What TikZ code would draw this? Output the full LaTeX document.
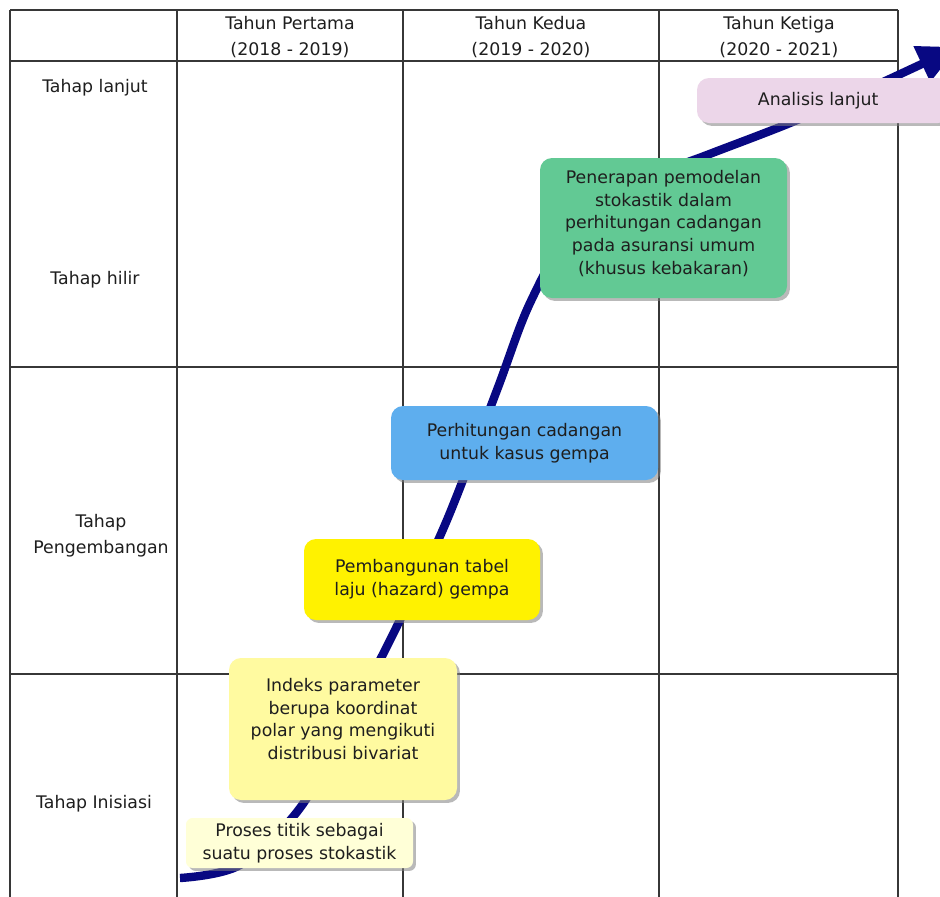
\documentclass[tikz,border=0pt]{standalone}
\usepackage{fontspec}
\setmainfont{DejaVu Sans}
\usetikzlibrary{shadows,arrows.meta}
\definecolor{gridc}{RGB}{55,55,55}
\definecolor{navy}{RGB}{8,8,130}
\definecolor{pinkbox}{RGB}{236,214,233}
\definecolor{greenbox}{RGB}{98,201,148}
\definecolor{bluebox}{RGB}{94,174,238}
\definecolor{yellowbox}{RGB}{255,242,0}
\definecolor{lightyellow}{RGB}{255,250,160}
\definecolor{paleyellow}{RGB}{255,255,215}
\definecolor{txt}{RGB}{30,30,30}
\begin{document}
\begin{tikzpicture}[x=0.75pt,y=-0.75pt,
  font=\fontsize{13}{17}\selectfont, text=txt,
  gridline/.style={draw=gridc, line width=1.1pt},
  hdr/.style={align=center, font=\fontsize{13}{19.5}\selectfont},
  rowlab/.style={align=center, font=\fontsize{13}{19.5}\selectfont},
  box/.style={rounded corners=9pt, align=center, inner sep=0pt,
    drop shadow={shadow xshift=2.2pt, shadow yshift=-2.2pt, opacity=0.55, fill=gray}},
  curve/.style={draw=navy, line width=6.3pt, -{Triangle[length=30pt,width=28pt]}}
]
\useasboundingbox (0,0) rectangle (940,897);
\clip (0,0) rectangle (940,897);
\fill[white] (0,0) rectangle (940,897);

% table grid
\coordinate (tl) at (10,10);
\foreach \x in {10,177,403,659,898} \draw[gridline] (\x,10) -- (\x,900);
\foreach \y in {10,61,367,674} \draw[gridline] (10,\y) -- (898,\y);

% headers
\node[hdr] (h1) at (290,37) {Tahun Pertama\\(2018 - 2019)};
\node[hdr] (h2) at (531,37) {Tahun Kedua\\(2019 - 2020)};
\node[hdr] (h3) at (779,37) {Tahun Ketiga\\(2020 - 2021)};

% row labels
\node[rowlab] (r1) at (95,88) {Tahap lanjut};
\node[rowlab] (r2) at (95,280) {Tahap hilir};
\node[rowlab] (r3) at (101,536) {Tahap\\Pengembangan};
\node[rowlab] (r4) at (94,804) {Tahap Inisiasi};

% S-curve
\draw[curve] plot[smooth, tension=0.55] coordinates {
  (180,878) (240,865) (300,808) (350,718) (400,620) (447,520)
  (497,390) (530,303) (575,225) (635,183) (707,155) (790,123) (870,88) (958,47)};

% boxes
\node[box, fill=pinkbox, minimum width=189.75pt, minimum height=33.75pt] (b6) at (823.5,100.5) {\hspace*{-4pt}Analisis lanjut\hspace*{4pt}};
\node[box, fill=greenbox, minimum width=185.25pt, minimum height=105pt] (b5) at (663.5,228)
  {\\[-14pt]Penerapan pemodelan\\stokastik dalam\\perhitungan cadangan\\pada asuransi umum\\(khusus kebakaran)};
\node[box, fill=bluebox, minimum width=200.25pt, minimum height=55.5pt] (b4) at (524.5,443)
  {Perhitungan cadangan\\untuk kasus gempa};
\node[box, fill=yellowbox, minimum width=177pt, minimum height=60.75pt] (b3) at (422,579.5)
  {Pembangunan tabel\\laju (hazard) gempa};
\node[box, fill=lightyellow, minimum width=171pt, minimum height=106.5pt] (b2) at (343,729) {};
\node[align=center] (b2t) at (343,719)
  {Indeks parameter\\berupa koordinat\\polar yang mengikuti\\distribusi bivariat};
\node[box, rounded corners=5pt, fill=paleyellow, minimum width=170.25pt, minimum height=37.5pt] (b1) at (299.5,843)
  {Proses titik sebagai\\suatu proses stokastik};
\end{tikzpicture}
\end{document}
